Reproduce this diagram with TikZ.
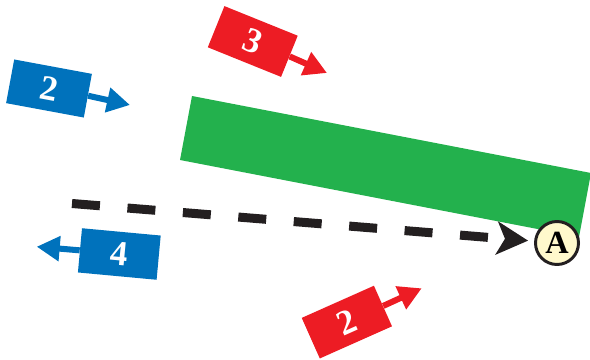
\documentclass[tikz,border=0pt]{standalone}
\usepackage{fontspec}
\setmainfont{Liberation Serif}
\usepackage{tikz}
\usetikzlibrary{arrows.meta}
\definecolor{zoneblue}{RGB}{0,114,188}
\definecolor{zonered}{RGB}{237,28,36}
\definecolor{zonegreen}{RGB}{35,177,77}
\definecolor{zonedark}{RGB}{35,31,32}
\definecolor{zoneyellow}{RGB}{255,249,204}
\begin{document}
\begin{tikzpicture}[x=0.025cm, y=-0.025cm,
	box/.style={minimum width=1.975cm, minimum height=1.11cm, inner sep=0pt, text=white, font=\fontsize{25}{25}\selectfont\bfseries},
	bluebox/.style={box, fill=zoneblue},
	redbox/.style={box, fill=zonered},
	push/.style={line width=4.3pt, -{Triangle[length=0.575cm, width=0.6cm]}},
	spot/.style={circle, draw=zonedark, line width=2.1pt, fill=zoneyellow, minimum size=1.075cm, inner sep=0pt, font=\fontsize{23}{23}\selectfont\bfseries},
	route/.style={zonedark, line width=0.225cm, dash pattern=on 0.7cm off 0.69cm, shorten >=0.15cm, -{Stealth[length=0.78cm, width=0.82cm, inset=0.2cm]}}]
					\useasboundingbox (0,0) rectangle (590,360);
					\fill[zonegreen] (192,96) -- (591,173) -- (579,237) -- (180,160) -- cycle;
					\node[spot] (A) at (557,243) {A};
					\coordinate (start) at (72,203.5);
					\draw[route] (start) -- (A);
					\node[bluebox, rotate=-10.5] (b2) at (49,88.5) {2};
					\coordinate (t2) at (130,105);
					\draw[zoneblue, push] (b2.east) -- (t2);
					\node[redbox, rotate=-22] (r3) at (252.75,41.5) {3};
					\coordinate (t3) at (327,73);
					\draw[zonered, push] (r3.east) -- (t3);
					\node[bluebox, rotate=-5.3] (b4) at (119.3,254) {4};
					\coordinate (t4) at (36.7,246.7);
					\draw[zoneblue, push] (b4.west) -- (t4);
					\node[redbox, rotate=24] (r2) at (346.85,322.1) {2};
					\coordinate (t5) at (421.7,288.3);
					\draw[zonered, push] (r2.east) -- (t5);
				\end{tikzpicture}
\end{document}
